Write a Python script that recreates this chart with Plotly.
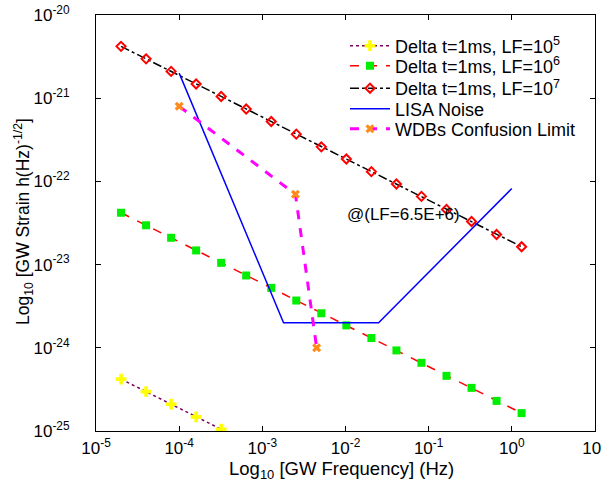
import math
import plotly.graph_objects as go

# GW frequency (Hz) for the LF series
freq = [2.0e-5, 4.0e-5, 8.0e-5, 1.6e-4, 3.2e-4, 6.4e-4, 1.28e-3, 2.56e-3, 5.12e-3,
        1.024e-2, 2.048e-2, 4.096e-2, 8.192e-2, 0.16384, 0.32768, 0.65536, 1.31072]
# strain values
h_lf7 = [4.2e-21, 2.97e-21, 2.1e-21, 1.48e-21, 1.05e-21, 7.4e-22, 5.25e-22, 3.7e-22,
         2.6e-22, 1.86e-22, 1.31e-22, 9.3e-23, 6.6e-23, 4.6e-23, 3.3e-23, 2.3e-23, 1.64e-23]
h_lf6 = [4.2e-23, 2.97e-23, 2.1e-23, 1.48e-23, 1.05e-23, 7.4e-24, 5.25e-24, 3.7e-24,
         2.6e-24, 1.86e-24, 1.31e-24, 9.3e-25, 6.6e-25, 4.6e-25, 3.3e-25, 2.3e-25, 1.64e-25]
freq_lf5 = [2.0e-5, 4.0e-5, 8.0e-5, 1.6e-4, 3.2e-4]
h_lf5 = [4.2e-25, 2.97e-25, 2.1e-25, 1.48e-25, 1.05e-25]

lisa_f = [1.0e-4, 1.8e-3, 2.5e-2, 1.0]
lisa_h = [2.0e-21, 2.0e-24, 2.0e-24, 8.2e-23]

wdb_f = [1.0e-4, 2.5e-3, 4.5e-3]
wdb_h = [8.0e-22, 7.0e-23, 1.0e-24]

names = ["Delta t=1ms, LF=10<sup>5</sup>", "Delta t=1ms, LF=10<sup>6</sup>",
         "Delta t=1ms, LF=10<sup>7</sup>", "LISA Noise", "WDBs Confusion Limit"]

x_tickvals = [1e-5, 1e-4, 1e-3, 1e-2, 1e-1, 1e0, 1e1]
x_ticktext = ["10<sup>-5</sup>", "10<sup>-4</sup>", "10<sup>-3</sup>", "10<sup>-2</sup>",
              "10<sup>-1</sup>", "10<sup>0</sup>", "10<sup>1</sup>"]
y_tickvals = [1e-25, 1e-24, 1e-23, 1e-22, 1e-21, 1e-20]
y_ticktext = ["10<sup>-25</sup>", "10<sup>-24</sup>", "10<sup>-23</sup>", "10<sup>-22</sup>",
              "10<sup>-21</sup>", "10<sup>-20</sup>"]

x_title = "Log<sub>10</sub> [GW Frequency] (Hz)"
y_title = "Log<sub>10</sub> [GW Strain h(Hz)<sup>-1/2</sup>]"

annot_text = "@(LF=6.5E+6)"
annot_f, annot_h = 0.05, 3.95e-23

FONT = "Liberation Sans, Arial, sans-serif"

L_LEFT, L_RIGHT, L_TOP, L_BOTTOM = 96, 595, 15, 431
PW, PH = L_RIGHT - L_LEFT, L_BOTTOM - L_TOP

def px_x(p):
    return (p - L_LEFT) / PW

def px_y(p):
    return (L_BOTTOM - p) / PH

fig = go.Figure()
fig.add_trace(go.Scatter(x=freq_lf5, y=h_lf5, name=names[0], mode="lines+markers",
                         legend="legend",
                         line=dict(color="#800060", dash="dot", width=1.5),
                         marker=dict(symbol="cross", color="#ffff00", size=9)))
fig.add_trace(go.Scatter(x=freq, y=h_lf6, name=names[1], mode="lines+markers",
                         legend="legend2",
                         line=dict(color="#ff0000", dash="dash", width=1.5),
                         marker=dict(symbol="square", color="#00ee00", size=8)))
fig.add_trace(go.Scatter(x=freq, y=h_lf7, name=names[2], mode="lines+markers",
                         legend="legend3",
                         line=dict(color="#000000", dash="dashdot", width=1.5),
                         marker=dict(symbol="diamond-open", color="#ff0000", size=7,
                                     line=dict(width=2, color="#ff0000"))))
fig.add_trace(go.Scatter(x=lisa_f, y=lisa_h, name=names[3], mode="lines",
                         legend="legend4",
                         line=dict(color="#0000ff", width=1.5)))
fig.add_trace(go.Scatter(x=wdb_f, y=wdb_h, name=names[4], mode="lines+markers",
                         legend="legend5",
                         line=dict(color="#ff00ff", dash="dash", width=3),
                         marker=dict(symbol="x", color="#ff8c1a", size=8)))

fig.add_annotation(x=math.log10(annot_f), y=math.log10(annot_h), xref="x", yref="y",
                   text=annot_text, showarrow=False,
                   font=dict(family=FONT, size=17, color="#000000"),
                   xanchor="center", yanchor="middle")

# axis titles
fig.add_annotation(x=px_x(341), y=px_y(470), xref="paper", yref="paper", text=x_title,
                   showarrow=False, font=dict(family=FONT, size=18.5, color="#000000"),
                   xanchor="center", yanchor="middle")
fig.add_annotation(x=px_x(23), y=px_y(222), xref="paper", yref="paper", text=y_title,
                   textangle=-90, showarrow=False,
                   font=dict(family=FONT, size=17.5, color="#000000"),
                   xanchor="center", yanchor="middle")

axis_common = dict(type="log", showgrid=False, zeroline=False, showline=True,
                   linecolor="#000000", linewidth=1, mirror="ticks", ticks="inside",
                   ticklen=5, tickcolor="#000000", tickmode="array", automargin=False,
                   tickfont=dict(family=FONT, size=17, color="#000000"))

fig.update_xaxes(range=[-5, 1], tickvals=x_tickvals, ticktext=x_ticktext,
                 ticklabeloverflow="allow", ticklabelstandoff=2, **axis_common)
fig.update_yaxes(range=[-25, -20], tickvals=y_tickvals, ticktext=y_ticktext,
                 ticklabelstandoff=22, **axis_common)

leg_rows = [46, 66, 88.5, 109, 129]
leg_common = dict(x=px_x(345), xanchor="left", yanchor="middle",
                  bgcolor="rgba(255,255,255,0)", borderwidth=0,
                  font=dict(family=FONT, size=18, color="#000000"), itemwidth=40)
layout_legends = {}
for i, row in enumerate(leg_rows):
    key = "legend" if i == 0 else "legend%d" % (i + 1)
    layout_legends[key] = dict(y=px_y(row), **leg_common)

fig.update_layout(
    width=602, height=487,
    margin=dict(l=L_LEFT, r=602 - L_RIGHT, t=L_TOP, b=487 - L_BOTTOM, autoexpand=False),
    paper_bgcolor="#ffffff", plot_bgcolor="#ffffff",
    font=dict(family=FONT, color="#000000"),
    showlegend=True,
    **layout_legends,
)

fig.write_html("out.html", config={"displayModeBar": False},
               post_script="document.body.style.margin='0';document.body.style.overflow='hidden';")
